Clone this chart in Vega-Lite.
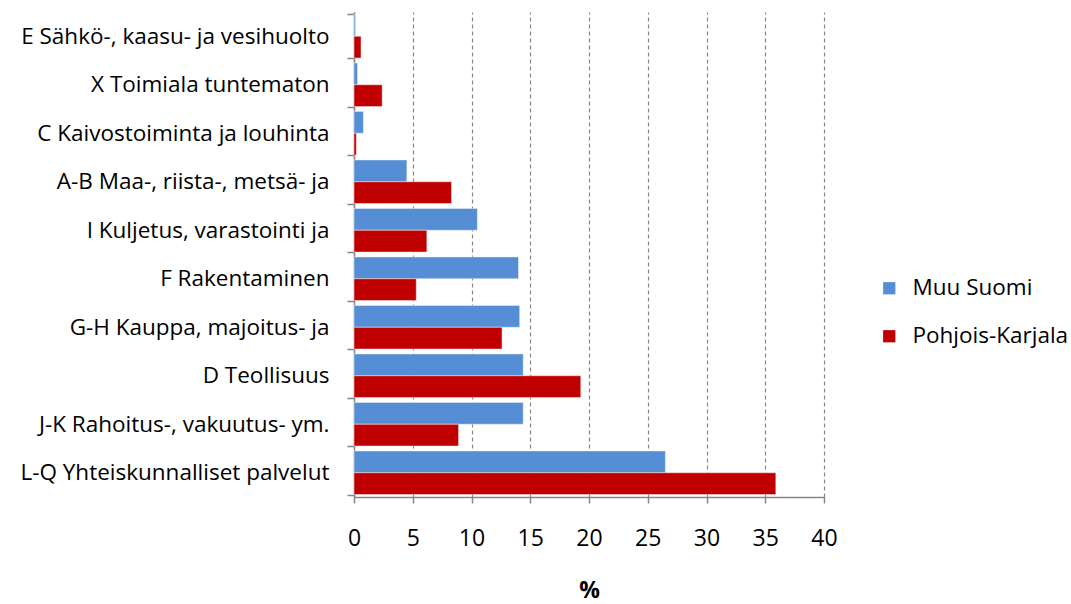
{
  "$schema": "https://vega.github.io/schema/vega-lite/v6.json",
  "width": 470,
  "height": 485,
  "autosize": {"type": "none"},
  "padding": {"left": 354, "top": 12, "right": 247, "bottom": 107},
  "background": "white",
  "config": {"view": {"stroke": null}, "font": "Open Sans"},
  "data": {
    "values": [
      {"cat": "E Sähkö-, kaasu- ja vesihuolto", "series": "Muu Suomi", "value": 0.1},
      {"cat": "E Sähkö-, kaasu- ja vesihuolto", "series": "Pohjois-Karjala", "value": 0.6},
      {"cat": "X Toimiala tuntematon", "series": "Muu Suomi", "value": 0.3},
      {"cat": "X Toimiala tuntematon", "series": "Pohjois-Karjala", "value": 2.4},
      {"cat": "C Kaivostoiminta ja louhinta", "series": "Muu Suomi", "value": 0.8},
      {"cat": "C Kaivostoiminta ja louhinta", "series": "Pohjois-Karjala", "value": 0.2},
      {"cat": "A-B Maa-,  riista-,  metsä- ja", "series": "Muu Suomi", "value": 4.5},
      {"cat": "A-B Maa-,  riista-,  metsä- ja", "series": "Pohjois-Karjala", "value": 8.3},
      {"cat": "I Kuljetus, varastointi ja ", "series": "Muu Suomi", "value": 10.5},
      {"cat": "I Kuljetus, varastointi ja ", "series": "Pohjois-Karjala", "value": 6.2},
      {"cat": "F Rakentaminen", "series": "Muu Suomi", "value": 14.0},
      {"cat": "F Rakentaminen", "series": "Pohjois-Karjala", "value": 5.3},
      {"cat": "G-H Kauppa, majoitus- ja ", "series": "Muu Suomi", "value": 14.1},
      {"cat": "G-H Kauppa, majoitus- ja ", "series": "Pohjois-Karjala", "value": 12.6},
      {"cat": "D Teollisuus", "series": "Muu Suomi", "value": 14.4},
      {"cat": "D Teollisuus", "series": "Pohjois-Karjala", "value": 19.3},
      {"cat": "J-K Rahoitus-, vakuutus- ym.", "series": "Muu Suomi", "value": 14.4},
      {"cat": "J-K Rahoitus-, vakuutus- ym.", "series": "Pohjois-Karjala", "value": 8.9},
      {"cat": "L-Q Yhteiskunnalliset palvelut", "series": "Muu Suomi", "value": 26.5},
      {"cat": "L-Q Yhteiskunnalliset palvelut", "series": "Pohjois-Karjala", "value": 35.9}
    ]
  },
  "mark": {"type": "bar", "stroke": "#f2f2f2", "strokeWidth": 0.5},
  "encoding": {
    "y": {
      "field": "cat",
      "type": "nominal",
      "sort": null,
      "scale": {"paddingInner": 0.1, "paddingOuter": 0.05},
      "axis": {
        "title": null,
        "tickBand": "extent",
        "domainColor": "#868686",
        "domainWidth": 1.5,
        "tickColor": "#868686",
        "tickWidth": 1.5,
        "tickSize": 7,
        "labelFontSize": 22.5,
        "labelColor": "#000000",
        "labelPadding": 18,
        "labelLimit": 400
      }
    },
    "yOffset": {"field": "series", "type": "nominal", "sort": ["Muu Suomi", "Pohjois-Karjala"]},
    "x": {
      "field": "value",
      "type": "quantitative",
      "scale": {"domain": [0, 40], "nice": false},
      "axis": {
        "values": [0, 5, 10, 15, 20, 25, 30, 35, 40],
        "title": "%",
        "titleFontSize": 23,
        "titleFontWeight": "bold",
        "titleColor": "#000000",
        "titlePadding": 29,
        "grid": true,
        "gridColor": "#868686",
        "gridDash": [4, 3],
        "gridWidth": 1.2,
        "domainColor": "#868686",
        "domainWidth": 1.5,
        "tickColor": "#868686",
        "tickWidth": 1.5,
        "tickSize": 6,
        "labelFlush": false,
        "labelFontSize": 23,
        "labelColor": "#000000",
        "labelPadding": 24
      }
    },
    "color": {
      "field": "series",
      "type": "nominal",
      "scale": {"domain": ["Muu Suomi", "Pohjois-Karjala"], "range": ["#558ED5", "#C00000"]},
      "legend": {
        "title": null,
        "orient": "none",
        "legendX": 524,
        "legendY": 265,
        "symbolType": "square",
        "symbolSize": 150,
        "symbolStrokeWidth": 0,
        "labelFontSize": 22.5,
        "labelColor": "#000000",
        "labelOffset": 12,
        "rowPadding": 25
      }
    }
  }
}
